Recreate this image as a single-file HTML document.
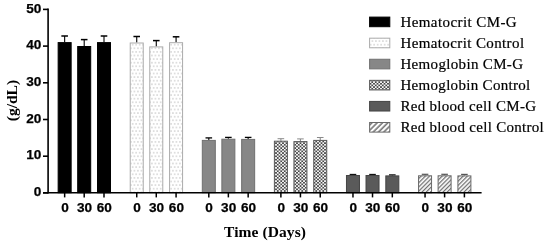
<!DOCTYPE html>
<html><head><meta charset="utf-8"><style>
html,body{margin:0;padding:0;background:#fff;}
body{width:550px;height:241px;overflow:hidden;}
svg{display:block;will-change:transform;}
.num{font-family:"Liberation Sans",sans-serif;font-weight:bold;font-size:13.6px;fill:#000;stroke:#000;stroke-width:0.25px;}
.ttl{font-family:"Liberation Serif",serif;font-weight:bold;font-size:15.5px;fill:#000;}
.leg{font-family:"Liberation Serif",serif;font-size:15px;fill:#000;stroke:#000;stroke-width:0.2px;}
</style></head><body>
<svg width="550" height="241" viewBox="0 0 550 241">
<defs>
<pattern id="dots" width="3.5" height="7.2" patternUnits="userSpaceOnUse" x="2.3" y="6.9">
  <rect width="3.5" height="7.2" fill="#fff"/>
  <circle cx="0.875" cy="1.8" r="0.7" fill="#b4b4b4"/>
  <circle cx="2.625" cy="5.4" r="0.7" fill="#b4b4b4"/>
</pattern>
<pattern id="check" width="3.5" height="3.3" patternUnits="userSpaceOnUse" x="0.375" y="2.075">
  <rect width="3.5" height="3.3" fill="#fafafa"/>
  <rect width="1.75" height="1.65" fill="#484848"/>
  <rect x="1.75" y="1.65" width="1.75" height="1.65" fill="#484848"/>
</pattern>
<pattern id="hatch" width="2.97" height="2.97" patternUnits="userSpaceOnUse" patternTransform="rotate(45)">
  <rect width="2.97" height="2.97" fill="#fff"/>
  <rect x="0" width="1.25" height="2.97" fill="#6e6e6e"/>
</pattern>
<pattern id="hatchL" width="3.75" height="3.75" patternUnits="userSpaceOnUse" patternTransform="rotate(45)">
  <rect width="3.75" height="3.75" fill="#fff"/>
  <rect x="0.3" width="1.5" height="3.75" fill="#6e6e6e"/>
</pattern>
</defs>
<line x1="64.65" y1="42.10" x2="64.65" y2="36.00" stroke="#000" stroke-width="1.1"/>
<line x1="61.35" y1="36.00" x2="67.95" y2="36.00" stroke="#000" stroke-width="1.5"/>
<rect x="58.15" y="42.60" width="13.00" height="150.10" fill="#000" stroke="#000" stroke-width="1.0"/>
<line x1="64.65" y1="192.70" x2="64.65" y2="197.4" stroke="#000" stroke-width="1.5"/>
<text transform="translate(64.95,211.6) scale(1.0,1)" class="num" text-anchor="middle">0</text>
<line x1="84.20" y1="46.00" x2="84.20" y2="39.60" stroke="#000" stroke-width="1.1"/>
<line x1="80.90" y1="39.60" x2="87.50" y2="39.60" stroke="#000" stroke-width="1.5"/>
<rect x="77.70" y="46.50" width="13.00" height="146.20" fill="#000" stroke="#000" stroke-width="1.0"/>
<line x1="84.20" y1="192.70" x2="84.20" y2="197.4" stroke="#000" stroke-width="1.5"/>
<text transform="translate(84.50,211.6) scale(1.0,1)" class="num" text-anchor="middle">30</text>
<line x1="104.00" y1="42.10" x2="104.00" y2="36.00" stroke="#000" stroke-width="1.1"/>
<line x1="100.70" y1="36.00" x2="107.30" y2="36.00" stroke="#000" stroke-width="1.5"/>
<rect x="97.50" y="42.60" width="13.00" height="150.10" fill="#000" stroke="#000" stroke-width="1.0"/>
<line x1="104.00" y1="192.70" x2="104.00" y2="197.4" stroke="#000" stroke-width="1.5"/>
<text transform="translate(104.30,211.6) scale(1.0,1)" class="num" text-anchor="middle">60</text>
<line x1="136.73" y1="42.50" x2="136.73" y2="36.50" stroke="#000" stroke-width="1.1"/>
<line x1="133.43" y1="36.50" x2="140.03" y2="36.50" stroke="#000" stroke-width="1.5"/>
<rect x="130.23" y="43.00" width="13.00" height="149.70" fill="url(#dots)" stroke="#ababab" stroke-width="1.0"/>
<line x1="136.73" y1="192.70" x2="136.73" y2="197.4" stroke="#000" stroke-width="1.5"/>
<text transform="translate(137.03,211.6) scale(1.0,1)" class="num" text-anchor="middle">0</text>
<line x1="156.28" y1="46.40" x2="156.28" y2="40.60" stroke="#000" stroke-width="1.1"/>
<line x1="152.98" y1="40.60" x2="159.58" y2="40.60" stroke="#000" stroke-width="1.5"/>
<rect x="149.78" y="46.90" width="13.00" height="145.80" fill="url(#dots)" stroke="#ababab" stroke-width="1.0"/>
<line x1="156.28" y1="192.70" x2="156.28" y2="197.4" stroke="#000" stroke-width="1.5"/>
<text transform="translate(156.58,211.6) scale(1.0,1)" class="num" text-anchor="middle">30</text>
<line x1="176.08" y1="42.20" x2="176.08" y2="36.80" stroke="#000" stroke-width="1.1"/>
<line x1="172.78" y1="36.80" x2="179.38" y2="36.80" stroke="#000" stroke-width="1.5"/>
<rect x="169.58" y="42.70" width="13.00" height="150.00" fill="url(#dots)" stroke="#ababab" stroke-width="1.0"/>
<line x1="176.08" y1="192.70" x2="176.08" y2="197.4" stroke="#000" stroke-width="1.5"/>
<text transform="translate(176.38,211.6) scale(1.0,1)" class="num" text-anchor="middle">60</text>
<line x1="208.81" y1="139.90" x2="208.81" y2="137.90" stroke="#000" stroke-width="1.1"/>
<line x1="205.51" y1="137.90" x2="212.11" y2="137.90" stroke="#000" stroke-width="1.3"/>
<rect x="202.31" y="140.40" width="13.00" height="52.30" fill="#878787" stroke="#707070" stroke-width="1.0"/>
<line x1="208.81" y1="192.70" x2="208.81" y2="197.4" stroke="#000" stroke-width="1.5"/>
<text transform="translate(209.11,211.6) scale(1.0,1)" class="num" text-anchor="middle">0</text>
<line x1="228.36" y1="138.70" x2="228.36" y2="137.40" stroke="#000" stroke-width="1.1"/>
<line x1="225.06" y1="137.40" x2="231.66" y2="137.40" stroke="#000" stroke-width="1.3"/>
<rect x="221.86" y="139.20" width="13.00" height="53.50" fill="#878787" stroke="#707070" stroke-width="1.0"/>
<line x1="228.36" y1="192.70" x2="228.36" y2="197.4" stroke="#000" stroke-width="1.5"/>
<text transform="translate(228.66,211.6) scale(1.0,1)" class="num" text-anchor="middle">30</text>
<line x1="248.16" y1="138.90" x2="248.16" y2="137.40" stroke="#000" stroke-width="1.1"/>
<line x1="244.86" y1="137.40" x2="251.46" y2="137.40" stroke="#000" stroke-width="1.3"/>
<rect x="241.66" y="139.40" width="13.00" height="53.30" fill="#878787" stroke="#707070" stroke-width="1.0"/>
<line x1="248.16" y1="192.70" x2="248.16" y2="197.4" stroke="#000" stroke-width="1.5"/>
<text transform="translate(248.46,211.6) scale(1.0,1)" class="num" text-anchor="middle">60</text>
<line x1="280.89" y1="140.70" x2="280.89" y2="138.70" stroke="#8a8a8a" stroke-width="1.1"/>
<line x1="277.59" y1="138.70" x2="284.19" y2="138.70" stroke="#8a8a8a" stroke-width="1.0"/>
<rect x="274.39" y="141.20" width="13.00" height="51.50" fill="url(#check)" stroke="#5a5a5a" stroke-width="1.0"/>
<line x1="280.89" y1="192.70" x2="280.89" y2="197.4" stroke="#000" stroke-width="1.5"/>
<text transform="translate(281.19,211.6) scale(1.0,1)" class="num" text-anchor="middle">0</text>
<line x1="300.44" y1="141.10" x2="300.44" y2="138.90" stroke="#8a8a8a" stroke-width="1.1"/>
<line x1="297.14" y1="138.90" x2="303.74" y2="138.90" stroke="#8a8a8a" stroke-width="1.0"/>
<rect x="293.94" y="141.60" width="13.00" height="51.10" fill="url(#check)" stroke="#5a5a5a" stroke-width="1.0"/>
<line x1="300.44" y1="192.70" x2="300.44" y2="197.4" stroke="#000" stroke-width="1.5"/>
<text transform="translate(300.74,211.6) scale(1.0,1)" class="num" text-anchor="middle">30</text>
<line x1="320.24" y1="139.90" x2="320.24" y2="137.50" stroke="#8a8a8a" stroke-width="1.1"/>
<line x1="316.94" y1="137.50" x2="323.54" y2="137.50" stroke="#8a8a8a" stroke-width="1.0"/>
<rect x="313.74" y="140.40" width="13.00" height="52.30" fill="url(#check)" stroke="#5a5a5a" stroke-width="1.0"/>
<line x1="320.24" y1="192.70" x2="320.24" y2="197.4" stroke="#000" stroke-width="1.5"/>
<text transform="translate(320.54,211.6) scale(1.0,1)" class="num" text-anchor="middle">60</text>
<line x1="352.97" y1="175.00" x2="352.97" y2="174.50" stroke="#111" stroke-width="1.1"/>
<line x1="349.67" y1="174.50" x2="356.27" y2="174.50" stroke="#111" stroke-width="1.3"/>
<rect x="346.47" y="175.50" width="13.00" height="17.20" fill="#5a5a5a" stroke="#444" stroke-width="1.0"/>
<line x1="352.97" y1="192.70" x2="352.97" y2="197.4" stroke="#000" stroke-width="1.5"/>
<text transform="translate(353.27,211.6) scale(1.0,1)" class="num" text-anchor="middle">0</text>
<line x1="372.52" y1="175.00" x2="372.52" y2="174.50" stroke="#111" stroke-width="1.1"/>
<line x1="369.22" y1="174.50" x2="375.82" y2="174.50" stroke="#111" stroke-width="1.3"/>
<rect x="366.02" y="175.50" width="13.00" height="17.20" fill="#5a5a5a" stroke="#444" stroke-width="1.0"/>
<line x1="372.52" y1="192.70" x2="372.52" y2="197.4" stroke="#000" stroke-width="1.5"/>
<text transform="translate(372.82,211.6) scale(1.0,1)" class="num" text-anchor="middle">30</text>
<line x1="392.32" y1="175.40" x2="392.32" y2="174.90" stroke="#111" stroke-width="1.1"/>
<line x1="389.02" y1="174.90" x2="395.62" y2="174.90" stroke="#111" stroke-width="1.3"/>
<rect x="385.82" y="175.90" width="13.00" height="16.80" fill="#5a5a5a" stroke="#444" stroke-width="1.0"/>
<line x1="392.32" y1="192.70" x2="392.32" y2="197.4" stroke="#000" stroke-width="1.5"/>
<text transform="translate(392.62,211.6) scale(1.0,1)" class="num" text-anchor="middle">60</text>
<line x1="425.05" y1="175.30" x2="425.05" y2="174.30" stroke="#555" stroke-width="1.1"/>
<line x1="421.75" y1="174.30" x2="428.35" y2="174.30" stroke="#555" stroke-width="1.2"/>
<rect x="418.55" y="175.80" width="13.00" height="16.90" fill="url(#hatch)" stroke="#6a6a6a" stroke-width="1.0"/>
<line x1="425.05" y1="192.70" x2="425.05" y2="197.4" stroke="#000" stroke-width="1.5"/>
<text transform="translate(425.35,211.6) scale(1.0,1)" class="num" text-anchor="middle">0</text>
<line x1="444.60" y1="175.30" x2="444.60" y2="174.30" stroke="#555" stroke-width="1.1"/>
<line x1="441.30" y1="174.30" x2="447.90" y2="174.30" stroke="#555" stroke-width="1.2"/>
<rect x="438.10" y="175.80" width="13.00" height="16.90" fill="url(#hatch)" stroke="#6a6a6a" stroke-width="1.0"/>
<line x1="444.60" y1="192.70" x2="444.60" y2="197.4" stroke="#000" stroke-width="1.5"/>
<text transform="translate(444.90,211.6) scale(1.0,1)" class="num" text-anchor="middle">30</text>
<line x1="464.40" y1="175.40" x2="464.40" y2="174.40" stroke="#555" stroke-width="1.1"/>
<line x1="461.10" y1="174.40" x2="467.70" y2="174.40" stroke="#555" stroke-width="1.2"/>
<rect x="457.90" y="175.90" width="13.00" height="16.80" fill="url(#hatch)" stroke="#6a6a6a" stroke-width="1.0"/>
<line x1="464.40" y1="192.70" x2="464.40" y2="197.4" stroke="#000" stroke-width="1.5"/>
<text transform="translate(464.70,211.6) scale(1.0,1)" class="num" text-anchor="middle">60</text>
<line x1="48.1" y1="8.5" x2="48.1" y2="193.50" stroke="#000" stroke-width="1.6"/>
<line x1="43" y1="192.7" x2="481.6" y2="192.7" stroke="#000" stroke-width="1.6"/>
<line x1="43" y1="192.90" x2="48.1" y2="192.90" stroke="#000" stroke-width="1.6"/>
<text transform="translate(41.3,196.10) scale(1.0,1)" class="num" text-anchor="end">0</text>
<line x1="43" y1="156.20" x2="48.1" y2="156.20" stroke="#000" stroke-width="1.6"/>
<text transform="translate(41.3,159.40) scale(1.0,1)" class="num" text-anchor="end">10</text>
<line x1="43" y1="119.50" x2="48.1" y2="119.50" stroke="#000" stroke-width="1.6"/>
<text transform="translate(41.3,122.70) scale(1.0,1)" class="num" text-anchor="end">20</text>
<line x1="43" y1="82.80" x2="48.1" y2="82.80" stroke="#000" stroke-width="1.6"/>
<text transform="translate(41.3,86.00) scale(1.0,1)" class="num" text-anchor="end">30</text>
<line x1="43" y1="46.10" x2="48.1" y2="46.10" stroke="#000" stroke-width="1.6"/>
<text transform="translate(41.3,49.30) scale(1.0,1)" class="num" text-anchor="end">40</text>
<line x1="43" y1="9.40" x2="48.1" y2="9.40" stroke="#000" stroke-width="1.6"/>
<text transform="translate(41.3,12.60) scale(1.0,1)" class="num" text-anchor="end">50</text>
<text x="265.0" y="236.6" class="ttl" text-anchor="middle" textLength="81.9" lengthAdjust="spacing">Time (Days)</text>
<text transform="translate(16.5,100.6) rotate(-90)" class="ttl" text-anchor="middle">(g/dL)</text>
<rect x="369.6" y="17.10" width="20.2" height="9.6" fill="#000" stroke="#000" stroke-width="1"/>
<text x="400.4" y="26.60" class="leg" textLength="116.29" lengthAdjust="spacing">Hematocrit CM-G</text>
<rect x="369.6" y="38.18" width="20.2" height="9.6" fill="url(#dots)" stroke="#ababab" stroke-width="1"/>
<text x="400.4" y="47.68" class="leg" textLength="123.66" lengthAdjust="spacing">Hematocrit Control</text>
<rect x="369.6" y="59.26" width="20.2" height="9.6" fill="#878787" stroke="#707070" stroke-width="1"/>
<text x="400.4" y="68.76" class="leg" textLength="122.62" lengthAdjust="spacing">Hemoglobin CM-G</text>
<rect x="369.6" y="80.34" width="20.2" height="9.6" fill="url(#check)" stroke="#5a5a5a" stroke-width="1"/>
<text x="400.4" y="89.84" class="leg" textLength="129.88" lengthAdjust="spacing">Hemoglobin Control</text>
<rect x="369.6" y="101.42" width="20.2" height="9.6" fill="#5a5a5a" stroke="#444" stroke-width="1"/>
<text x="400.4" y="110.92" class="leg" textLength="135.61" lengthAdjust="spacing">Red blood cell CM-G</text>
<rect x="369.6" y="122.50" width="20.2" height="9.6" fill="url(#hatchL)" stroke="#6a6a6a" stroke-width="1"/>
<text x="400.4" y="132.00" class="leg" textLength="143.38" lengthAdjust="spacing">Red blood cell Control</text>
</svg>
</body></html>
